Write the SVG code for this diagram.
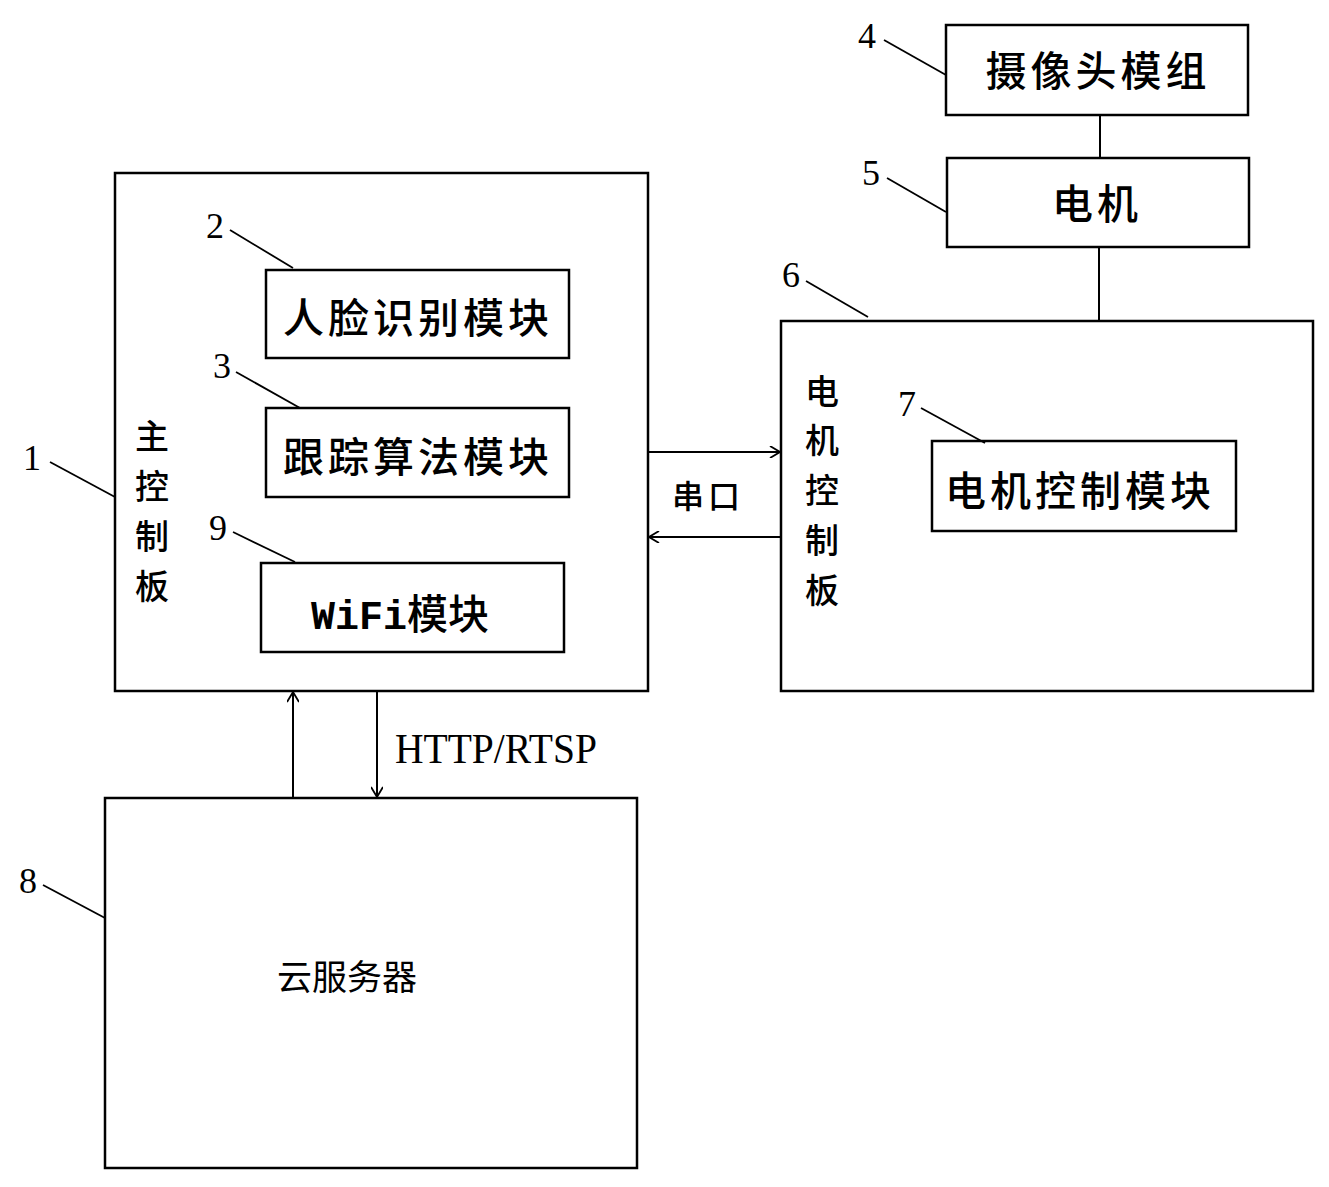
<svg xmlns="http://www.w3.org/2000/svg" width="1329" height="1187" viewBox="0 0 1329 1187">
<style>
.box{fill:none;stroke:#000;stroke-width:2.5}
.ln{fill:none;stroke:#000;stroke-width:2}
.lead{fill:none;stroke:#000;stroke-width:1.8}
.cj{font-family:"Noto Sans CJK SC","Noto Sans",sans-serif;fill:#000}
.bt{font-size:41px;letter-spacing:4px;text-anchor:middle;font-weight:500}
.num{font-family:"Liberation Serif",serif;font-size:36px;fill:#000;text-anchor:middle}
.vt{font-size:34px;text-anchor:middle;font-weight:500}
</style>
<defs>
<marker id="arr" viewBox="0 0 12 12" refX="11" refY="6" markerWidth="12" markerHeight="12" markerUnits="userSpaceOnUse" orient="auto">
<path d="M1,0 L11,6 L1,12" fill="none" stroke="#000" stroke-width="1.8"/>
</marker>
</defs>
<rect width="1329" height="1187" fill="#fff"/>

<g id="main-board">
<rect class="box" x="115" y="173" width="533" height="518"/>
<text class="cj vt" x="152" y="449">主</text>
<text class="cj vt" x="152" y="499">控</text>
<text class="cj vt" x="152" y="549">制</text>
<text class="cj vt" x="152" y="599">板</text>
<text class="num" x="32" y="470">1</text>
<line class="lead" x1="50" y1="462" x2="115" y2="497"/>
</g>

<g id="face-module">
<rect class="box" x="266" y="270" width="303" height="88"/>
<text class="cj bt" x="418" y="333">人脸识别模块</text>
<text class="num" x="215" y="238">2</text>
<line class="lead" x1="230" y1="230" x2="293" y2="268"/>
</g>

<g id="tracking-module">
<rect class="box" x="266" y="408" width="303" height="89"/>
<text class="cj bt" x="418" y="472">跟踪算法模块</text>
<text class="num" x="222" y="378">3</text>
<line class="lead" x1="236" y1="372" x2="300" y2="408"/>
</g>

<g id="wifi-module">
<rect class="box" x="261" y="563" width="303" height="89"/>
<text x="400" y="629" text-anchor="middle" fill="#000"><tspan font-family="Liberation Mono, monospace" font-size="40" font-weight="bold">WiFi</tspan><tspan class="cj" font-size="41" font-weight="500">模块</tspan></text>
<text class="num" x="218" y="540">9</text>
<line class="lead" x1="233" y1="532" x2="295" y2="562"/>
</g>

<g id="camera-module">
<rect class="box" x="946" y="25" width="302" height="90"/>
<text class="cj bt" x="1098" y="86">摄像头模组</text>
<text class="num" x="867" y="48">4</text>
<line class="lead" x1="884" y1="40" x2="946" y2="75"/>
</g>

<g id="motor">
<rect class="box" x="947" y="158" width="302" height="89"/>
<text class="cj bt" x="1097" y="219">电机</text>
<text class="num" x="871" y="185">5</text>
<line class="lead" x1="887" y1="178" x2="946" y2="212"/>
</g>

<g id="motor-board">
<rect class="box" x="781" y="321" width="532" height="370"/>
<text class="cj vt" x="822" y="404">电</text>
<text class="cj vt" x="822" y="453">机</text>
<text class="cj vt" x="822" y="503">控</text>
<text class="cj vt" x="822" y="553">制</text>
<text class="cj vt" x="822" y="603">板</text>
<text class="num" x="791" y="287">6</text>
<line class="lead" x1="806" y1="281" x2="868" y2="317"/>
</g>

<g id="motor-control-module">
<rect class="box" x="932" y="441" width="304" height="90"/>
<text class="cj bt" x="1080" y="506">电机控制模块</text>
<text class="num" x="907" y="416">7</text>
<line class="lead" x1="921" y1="408" x2="985" y2="443"/>
</g>

<g id="cloud-server">
<rect class="box" x="105" y="798" width="532" height="370"/>
<text class="cj" x="347" y="990" font-size="35" text-anchor="middle">云服务器</text>
<text class="num" x="28" y="893">8</text>
<line class="lead" x1="43" y1="885" x2="105" y2="918"/>
</g>

<g id="connectors">
<line class="ln" x1="1100" y1="115" x2="1100" y2="158"/>
<line class="ln" x1="1099" y1="247" x2="1099" y2="321"/>
<line class="ln" x1="648" y1="452" x2="780" y2="452" marker-end="url(#arr)"/>
<line class="ln" x1="781" y1="537" x2="649" y2="537" marker-end="url(#arr)"/>
<text class="cj" x="708" y="508" font-size="32" text-anchor="middle" letter-spacing="4" font-weight="500">串口</text>
<line class="ln" x1="293" y1="798" x2="293" y2="692" marker-end="url(#arr)"/>
<line class="ln" x1="377" y1="691" x2="377" y2="797" marker-end="url(#arr)"/>
<text x="395" y="763" font-family="Liberation Serif, serif" font-size="42" textLength="202" lengthAdjust="spacingAndGlyphs" fill="#000">HTTP/RTSP</text>
</g>
</svg>
